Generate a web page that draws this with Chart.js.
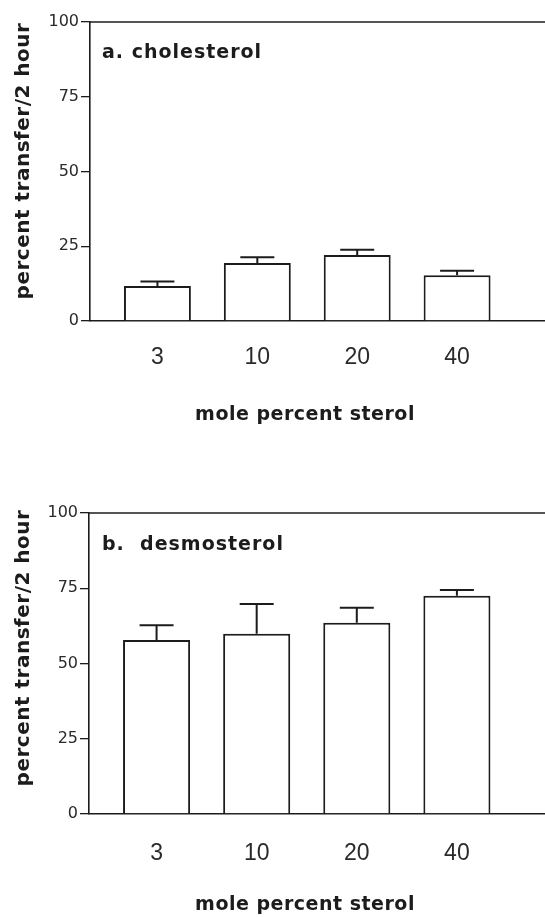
<!DOCTYPE html>
<html><head><meta charset="utf-8">
<script src="https://cdn.jsdelivr.net/npm/chart.js@4.4.1/dist/chart.umd.min.js"></script>
<style>
html,body{margin:0;padding:0;background:#fff;overflow:hidden;}
#wrap{position:relative;width:545px;height:917px;}
.panel{position:absolute;left:0;width:545px;}
</style></head><body>
<div id="wrap">
<div class="panel" style="top:0;height:458px"><canvas id="cA"></canvas></div>
<div class="panel" style="top:458px;height:459px"><canvas id="cB"></canvas></div>
</div>
<script>
// ---- data ----
const categories = ["3", "10", "20", "40"];
const positions = [1, 2, 3, 4];
const cholesterolValues = [11.7, 19.4, 22.1, 15.3];
const cholesterolErrors = [1.5, 1.9, 1.7, 1.5];
const desmosterolValues = [57.8, 59.9, 63.5, 72.5];
const desmosterolErrors = [4.9, 9.9, 5.0, 1.9];
const yTickValues = [0, 25, 50, 75, 100];
const yTitle = "percent transfer/2 hour";
const xTitle = "mole percent sterol";
const panelALabel = "a. cholesterol";
const panelBLabel = "b.  desmosterol";

const INK = '#1c1c1c';
const titleFont = "bold 19px 'DejaVu Sans'";
const yTitleFont = "bold 20px 'DejaVu Sans'";

function extrasPlugin(errors, label, lay) {
  return {
    id: 'extras',
    afterDatasetsDraw(chart) {
      const ctx = chart.ctx;
      const meta = chart.getDatasetMeta(0);
      const ys = chart.scales.y;
      const vals = chart.data.datasets[0].data;
      ctx.save();
      ctx.strokeStyle = INK;
      ctx.lineWidth = 2;
      meta.data.forEach((bar, i) => {
        const v = vals[i].y;
        const y0 = ys.getPixelForValue(v);
        const y1 = ys.getPixelForValue(v + errors[i]);
        ctx.beginPath();
        ctx.moveTo(bar.x, y0);
        ctx.lineTo(bar.x, y1);
        ctx.moveTo(bar.x - 17, y1);
        ctx.lineTo(bar.x + 17, y1);
        ctx.stroke();
      });
      ctx.restore();
    },
    afterDraw(chart) {
      const ctx = chart.ctx;
      const a = chart.chartArea;
      ctx.save();
      ctx.strokeStyle = INK;
      ctx.lineWidth = 1.6;
      ctx.beginPath();
      ctx.moveTo(a.left, a.top);
      ctx.lineTo(a.right, a.top);
      ctx.stroke();
      ctx.fillStyle = INK;
      // panel label
      ctx.font = titleFont;
      ctx.letterSpacing = '1px';
      ctx.textBaseline = 'middle';
      ctx.textAlign = 'left';
      ctx.fillText(label, lay.labelX, lay.labelY);
      // x title
      ctx.textAlign = 'center';
      ctx.letterSpacing = '0.5px';
      ctx.fillText(xTitle, lay.xTitleX, lay.xTitleY);
      // y title
      ctx.font = yTitleFont;
      ctx.translate(lay.yTitleX, lay.yTitleY);
      ctx.rotate(-Math.PI / 2);
      ctx.fillText(yTitle, 0, 0);
      ctx.restore();
    }
  };
}

function makeChart(id, values, errors, label, lay) {
  return new Chart(document.getElementById(id), {
    type: 'bar',
    data: {
      datasets: [{
        data: positions.map((p, i) => ({ x: p, y: values[i] })),
        backgroundColor: '#ffffff',
        borderColor: INK,
        borderWidth: 2,
        barPercentage: 0.67,
        categoryPercentage: 1.0
      }]
    },
    options: {
      responsive: true,
      maintainAspectRatio: false,
      animation: false,
      events: [],
      layout: { padding: { left: 0, right: 0, top: lay.top, bottom: lay.bottom } },
      plugins: { legend: { display: false }, tooltip: { enabled: false } },
      scales: {
        x: {
          type: 'linear',
          min: 0.325,
          max: 4.88,
          offset: false,
          grid: { display: false },
          border: { display: true, color: INK, width: 1.6 },
          afterBuildTicks: s => { s.ticks = positions.map(v => ({ value: v })); },
          afterFit: s => { s.height = lay.xAxisH; },
          ticks: {
            padding: lay.xTickPad,
            maxRotation: 0,
            autoSkip: false,
            color: '#2a2a2a',
            font: { family: "'Liberation Sans Narrow','Liberation Sans'", size: 23 },
            callback: v => categories[positions.indexOf(v)]
          }
        },
        y: {
          min: 0,
          max: 100,
          afterBuildTicks: s => { s.ticks = yTickValues.map(v => ({ value: v })); },
          afterFit: s => { s.width = lay.yAxisW; },
          grid: { drawOnChartArea: false, drawTicks: true, tickLength: 9, color: INK, lineWidth: 1.3 },
          border: { display: true, color: INK, width: 1.6 },
          ticks: {
            padding: 2,
            color: '#2a2a2a',
            font: { family: "'DejaVu Sans'", size: 16 }
          }
        }
      }
    },
    plugins: [extrasPlugin(errors, label, lay)]
  });
}

makeChart('cA', cholesterolValues, cholesterolErrors, panelALabel, {
  top: 22, bottom: 77, xAxisH: 60, yAxisW: 90, xTickPad: 15,
  labelX: 102, labelY: 53, xTitleX: 305, xTitleY: 415, yTitleX: 24, yTitleY: 161
});
makeChart('cB', desmosterolValues, desmosterolErrors, panelBLabel, {
  top: 55, bottom: 43, xAxisH: 60, yAxisW: 89, xTickPad: 18,
  labelX: 102, labelY: 87, xTitleX: 305, xTitleY: 447, yTitleX: 24, yTitleY: 190
});
</script>
</body></html>
